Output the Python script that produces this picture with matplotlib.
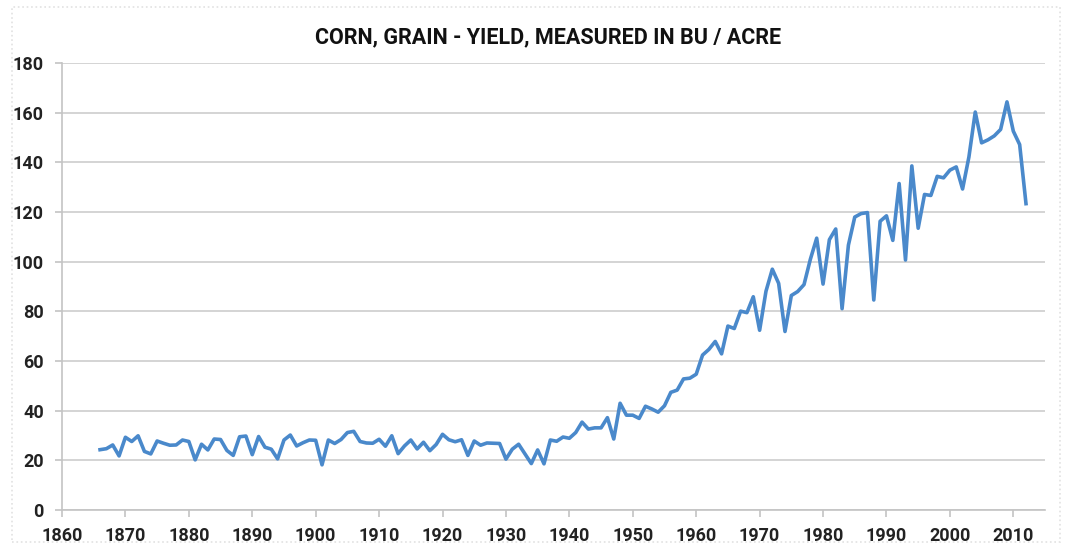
import numpy as np
import matplotlib.pyplot as plt
from matplotlib.patches import Rectangle

years = list(range(1866, 2013))
yields = [24.3, 24.7, 26.2, 21.8, 29.3, 27.6, 29.9, 23.6, 22.6, 27.8,
          26.9, 26.1, 26.2, 28.2, 27.6, 20.2, 26.5, 24.2, 28.6, 28.4,
          24.0, 22.0, 29.5, 29.8, 22.3, 29.6, 25.3, 24.5, 20.6, 28.2,
          30.2, 25.8, 27.1, 28.2, 28.1, 18.2, 28.2, 26.8, 28.4, 31.2,
          31.7, 27.6, 27.0, 26.9, 28.5, 25.7, 29.9, 22.7, 25.8, 28.2,
          24.6, 27.3, 23.9, 26.4, 30.5, 28.3, 27.5, 28.3, 22.0, 27.8,
          26.1, 27.0, 26.9, 26.8, 20.5, 24.5, 26.5, 22.6, 18.7, 24.2,
          18.6, 28.2, 27.7, 29.4, 28.9, 31.2, 35.4, 32.6, 33.1, 33.1,
          37.2, 28.6, 43.0, 38.2, 38.2, 36.9, 41.8, 40.7, 39.4, 42.0,
          47.4, 48.3, 52.8, 53.1, 54.7, 62.4, 64.7, 67.9, 62.9, 74.1,
          73.1, 80.1, 79.5, 85.9, 72.4, 88.1, 97.0, 91.3, 71.9, 86.4,
          88.0, 90.8, 101.0, 109.5, 91.0, 108.9, 113.2, 81.1, 106.7, 118.0,
          119.4, 119.8, 84.6, 116.3, 118.5, 108.6, 131.5, 100.7, 138.6, 113.5,
          127.1, 126.7, 134.4, 133.8, 136.9, 138.2, 129.3, 142.2, 160.3, 147.9,
          149.1, 150.7, 153.3, 164.4, 152.6, 147.2, 123.4]

xticks = list(range(1860, 2011, 10))
yticks = list(range(0, 181, 20))

plt.rcParams['font.family'] = ['Roboto', 'DejaVu Sans']

fig = plt.figure(figsize=(10.67, 5.49), dpi=100)
ax = fig.add_axes([0.0581, 0.071, 0.9213, 0.814])

# faint border round the chart area
fig.patches.append(Rectangle((0.011, 0.012), 0.982, 0.975, transform=fig.transFigure,
                             fill=False, edgecolor='#e2e2e2', linewidth=1.2, linestyle=':'))

ax.plot(years, yields, color='#4a89cb', linewidth=2.6, solid_joinstyle='round')

ax.set_xlim(1860, 2015)
ax.set_ylim(0, 180)
ax.set_xticks(xticks)
ax.set_yticks(yticks)
ax.grid(axis='y', color='#d4d4d4', linewidth=1.4)
ax.set_axisbelow(True)

for s in ['top', 'right']:
    ax.spines[s].set_visible(False)
for s in ['left', 'bottom']:
    ax.spines[s].set_color('#c4c4c4')
    ax.spines[s].set_linewidth(1.2)

ax.tick_params(axis='both', colors='#c4c4c4', labelcolor='#222222', labelsize=13,
               length=5, width=1.2, direction='out')
ax.tick_params(axis='x', pad=7)
ax.tick_params(axis='y', pad=8)
for lab in ax.get_xticklabels() + ax.get_yticklabels():
    lab.set_fontweight('bold')

fig.text(0.514, 0.932, 'CORN, GRAIN - YIELD, MEASURED IN BU / ACRE',
         ha='center', va='center', fontsize=15.5, fontweight='bold', color='#111111')

fig.savefig('out.png', dpi=100, facecolor='white')
